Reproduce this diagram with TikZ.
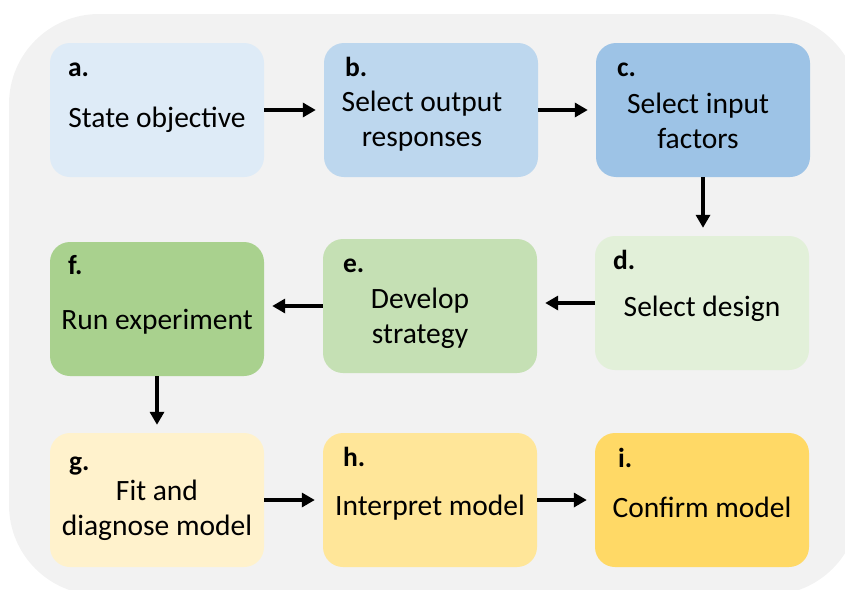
\documentclass[tikz,border=0pt]{standalone}
\usepackage{fontspec}
\setmainfont{Carlito}
\usetikzlibrary{arrows.meta}
\definecolor{panel}{HTML}{F2F2F2}
\definecolor{stepa}{HTML}{DEEBF7}
\definecolor{stepb}{HTML}{BDD7EE}
\definecolor{stepc}{HTML}{9DC3E6}
\definecolor{stepd}{HTML}{E2F0D9}
\definecolor{stepe}{HTML}{C5E0B4}
\definecolor{stepf}{HTML}{A9D18E}
\definecolor{stepg}{HTML}{FFF2CC}
\definecolor{steph}{HTML}{FFE699}
\definecolor{stepi}{HTML}{FFD966}
\tikzset{
  box/.style={rectangle, rounded corners=20pt, minimum width=214pt,
              minimum height=134pt, inner sep=0pt},
  txt/.style={align=center, inner sep=0pt, font=\fontsize{29.5}{35}\selectfont},
  tag/.style={anchor=base west, inner sep=0pt,
              font=\fontsize{27.5}{32}\selectfont\bfseries},
  arr/.style={-{Triangle[length=13pt,width=14pt]}, line width=4pt, shorten >=8pt}
}

\begin{document}
\begin{tikzpicture}[x=1pt,y=-1pt]
  \useasboundingbox (0,0) rectangle (845,589);
  % grey panel, cut off at the right and bottom
  \begin{scope}
    \clip (0,0) rectangle (845,589);
    \fill[panel, rounded corners=90pt] (9,14) rectangle (859,595);
  \end{scope}

  % row 1
  \node[box, fill=stepa] (a) at (157,110) {};
  \node[box, fill=stepb] (b) at (431,110) {};
  \node[box, fill=stepc] (c) at (703,110) {};
  % row 2
  \node[box, fill=stepd] (d) at (702,303) {};
  \node[box, fill=stepe] (e) at (430,306) {};
  \node[box, fill=stepf] (f) at (157,309) {};
  % row 3
  \node[box, fill=stepg] (g) at (157,500) {};
  \node[box, fill=steph] (h) at (430,500) {};
  \node[box, fill=stepi] (i) at (702,500) {};

  % letters
  \node[tag] (la) at ([xshift=18pt,yshift=-34pt]a.north west) {a.};
  \node[tag] (lb) at ([xshift=21pt,yshift=-34pt]b.north west) {b.};
  \node[tag] (lc) at ([xshift=21pt,yshift=-34pt]c.north west) {c.};
  \node[tag] (ld) at ([xshift=18pt,yshift=-34pt]d.north west) {d.};
  \node[tag] (le) at ([xshift=20pt,yshift=-34pt]e.north west) {e.};
  \node[tag] (lf) at ([xshift=18pt,yshift=-33pt]f.north west) {f.};
  \node[tag] (lg) at ([xshift=19pt,yshift=-38pt]g.north west) {g.};
  \node[tag] (lh) at ([xshift=20pt,yshift=-34pt]h.north west) {h.};
  \node[tag] (li) at ([xshift=23pt,yshift=-35pt]i.north west) {i.};

  % step texts
  \node[txt] (ta) at ([yshift=-10pt]a.center) {State objective};
  \node[txt] (tb) at ([xshift=-9pt,yshift=-11pt]b.center) {Select output\\responses};
  \node[txt] (tc) at ([xshift=-5pt,yshift=-11pt]c.center) {Select input\\factors};
  \node[txt] (td) at ([yshift=-6pt]d.center) {Select design};
  \node[txt] (te) at ([xshift=-10pt,yshift=-12pt]e.center) {Develop\\strategy};
  \node[txt] (tf) at ([yshift=-13pt]f.center) {Run experiment};
  \node[txt] (tg) at ([yshift=-10pt]g.center) {Fit and\\diagnose model};
  \node[txt] (th) at ([yshift=-8pt]h.center) {Interpret model};
  \node[txt] (ti) at ([yshift=-7pt]i.center) {Confirm model};

  \draw[arr] (a) -- (b);
  \draw[arr] (b) -- (c);
  \draw[arr] (c.south) -- (c.south |- d.north);
  \draw[arr] (d.west) -- (d.west -| e.east);
  \draw[arr] (e.west) -- (e.west -| f.east);
  \draw[arr] (f.south) -- (f.south |- g.north);
  \draw[arr] (g) -- (h);
  \draw[arr] (h) -- (i);
\end{tikzpicture}
\end{document}
